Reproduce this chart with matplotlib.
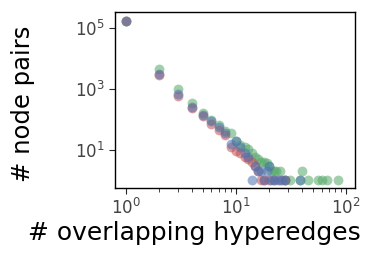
import matplotlib
matplotlib.use('Agg')
import matplotlib.pyplot as plt
import seaborn as sns

# dati (tre serie)
x_verde = [1, 2, 3, 4, 5, 6, 7, 8, 9, 10, 11, 12, 13, 14, 15, 16, 17, 18, 19, 20,
           21, 22, 23, 25, 28, 31, 38, 40, 45, 56, 60, 67, 85]
y_verde = [170000, 4500, 950, 340, 160, 95, 66, 40, 35, 20, 14, 12, 11, 8, 6, 5, 4, 4, 3.6, 3,
           2, 2, 2, 2, 1, 1, 1, 2, 1, 1, 1, 1, 1]

x_rosso = [1, 2, 3, 4, 5, 6, 7, 8, 9, 10, 11, 12, 13, 14, 15, 16, 17, 18, 20, 22, 25, 28]
y_rosso = [170000, 2800, 600, 230, 125, 70, 45, 30, 12, 9, 8, 6, 5, 4, 3, 2, 1, 1, 1, 1, 1, 1]

x_blu = [1, 2, 3, 4, 5, 6, 7, 8, 9, 10, 11, 12, 13, 14, 15, 16, 17, 18, 19, 20,
         21, 22, 24, 26, 28, 38]
y_blu = [170000, 3000, 650, 250, 140, 85, 55, 35, 15, 19, 12, 8, 6, 1, 3, 2, 2, 1, 2, 3,
         1, 1, 1, 1, 1, 1]

sns.set_style('ticks')
colori = sns.color_palette('deep')

fig = plt.figure(figsize=(3.74, 2.6), dpi=100)
ax = fig.add_axes([0.307, 0.277, 0.642, 0.677])

ax.scatter(x_verde, y_verde, s=50, color=colori[2], alpha=0.55, linewidths=0)
ax.scatter(x_rosso, y_rosso, s=50, color=colori[3], alpha=0.55, linewidths=0)
ax.scatter(x_blu, y_blu, s=50, color=colori[0], alpha=0.55, linewidths=0)

ax.set_xscale('log')
ax.set_yscale('log')
ax.set_xlim(0.8, 120)
ax.set_ylim(0.56, 3.3e5)
ax.set_yticks([10, 1000, 100000])
ax.minorticks_off()
ax.tick_params(axis='x', which='minor', bottom=True, length=3)
ax.set_xticks([2, 3, 4, 5, 6, 7, 8, 9, 20, 30, 40, 50, 60, 70, 80, 90], minor=True)
ax.set_xticklabels([], minor=True)

ax.tick_params(labelsize=12, labelcolor='#444444', length=4)
for s in ax.spines.values():
    s.set_color('black')
    s.set_linewidth(1)

ax.set_xlabel('# overlapping hyperedges', fontsize=18, color='black')
ax.set_ylabel('# node pairs', fontsize=17.5, color='black')
ax.xaxis.set_label_coords(0.333, -0.19)
ax.yaxis.set_label_coords(-0.333, 0.48)

fig.savefig('out.png', dpi=100)
